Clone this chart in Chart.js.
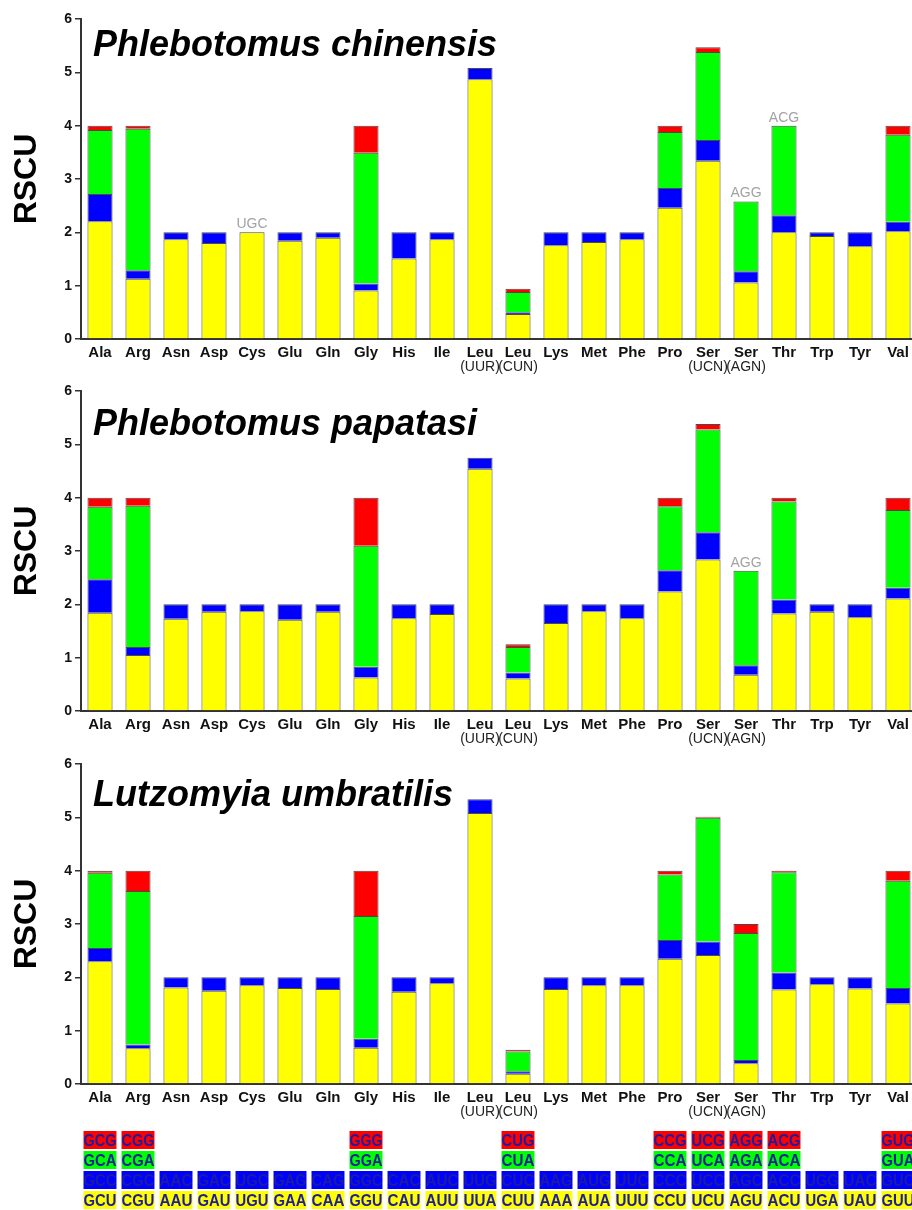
<!DOCTYPE html>
<html>
<head>
<meta charset="utf-8">
<script src="https://cdn.jsdelivr.net/npm/chart.js@4.4.1/dist/chart.umd.min.js"></script>
<style>
  html, body { margin: 0; padding: 0; background: #fff; overflow: hidden; width: 912px; height: 1210px; }
  canvas { position: absolute; left: 0; }
</style>
</head>
<body>
<canvas id="chinensis" width="920" height="390" style="top:0px"></canvas>
<canvas id="papatasi" width="920" height="390" style="top:372px"></canvas>
<canvas id="umbratilis" width="920" height="390" style="top:745px"></canvas>
<canvas id="codons" width="920" height="85" style="top:1125px"></canvas>
<script>
const aminoAcids = ["Ala", "Arg", "Asn", "Asp", "Cys", "Glu", "Gln", "Gly", "His", "Ile", "Leu",
  "Leu", "Lys", "Met", "Phe", "Pro", "Ser", "Ser", "Thr", "Trp", "Tyr", "Val"];
const subLabels = ["", "", "", "", "", "", "", "", "", "", "(UUR)",
  "(CUN)", "", "", "", "", "(UCN)", "(AGN)", "", "", "", ""];

// codon table, bottom row first (yellow, blue, green, red)
const codonsYellow = ["GCU", "CGU", "AAU", "GAU", "UGU", "GAA", "CAA", "GGU", "CAU", "AUU", "UUA",
  "CUU", "AAA", "AUA", "UUU", "CCU", "UCU", "AGU", "ACU", "UGA", "UAU", "GUU"];
const codonsBlue = ["GCC", "CGC", "AAC", "GAC", "UGC", "GAG", "CAG", "GGC", "CAC", "AUC", "UUG",
  "CUC", "AAG", "AUG", "UUC", "CCC", "UCC", "AGC", "ACC", "UGG", "UAC", "GUC"];
const codonsGreen = ["GCA", "CGA", "", "", "", "", "", "GGA", "", "", "",
  "CUA", "", "", "", "CCA", "UCA", "AGA", "ACA", "", "", "GUA"];
const codonsRed = ["GCG", "CGG", "", "", "", "", "", "GGG", "", "", "",
  "CUG", "", "", "", "CCG", "UCG", "AGG", "ACG", "", "", "GUG"];

// RSCU, Phlebotomus chinensis
const chinensisYellow = [2.21, 1.13, 1.87, 1.80, 2.00, 1.84, 1.90, 0.91, 1.51, 1.87, 4.87,
  0.47, 1.76, 1.82, 1.87, 2.46, 3.34, 1.06, 2.00, 1.93, 1.74, 2.02];
const chinensisBlue = [0.51, 0.16, 0.13, 0.20, 0.00, 0.16, 0.10, 0.13, 0.49, 0.13, 0.21,
  0.03, 0.24, 0.18, 0.13, 0.37, 0.39, 0.21, 0.32, 0.07, 0.26, 0.18];
const chinensisGreen = [1.20, 2.65, null, null, null, null, null, 2.45, null, null, null,
  0.38, null, null, null, 1.05, 1.65, 1.31, 1.68, null, null, 1.63];
const chinensisRed = [0.08, 0.06, null, null, null, null, null, 0.51, null, null, null,
  0.06, null, null, null, 0.12, 0.09, 0.00, 0.00, null, null, 0.17];

// RSCU, Phlebotomus papatasi
const papatasiYellow = [1.84, 1.05, 1.73, 1.86, 1.87, 1.71, 1.86, 0.63, 1.74, 1.82, 4.54,
  0.61, 1.65, 1.87, 1.74, 2.24, 2.84, 0.68, 1.83, 1.86, 1.76, 2.11];
const papatasiBlue = [0.63, 0.15, 0.27, 0.14, 0.13, 0.29, 0.14, 0.20, 0.26, 0.18, 0.21,
  0.11, 0.35, 0.13, 0.26, 0.40, 0.51, 0.18, 0.26, 0.14, 0.24, 0.20];
const papatasiGreen = [1.36, 2.65, null, null, null, null, null, 2.27, null, null, null,
  0.48, null, null, null, 1.20, 1.93, 1.77, 1.84, null, null, 1.46];
const papatasiRed = [0.17, 0.15, null, null, null, null, null, 0.90, null, null, null,
  0.05, null, null, null, 0.16, 0.10, 0.00, 0.07, null, null, 0.23];

// RSCU, Lutzomyia umbratilis
const umbratilisYellow = [2.30, 0.67, 1.81, 1.75, 1.85, 1.80, 1.78, 0.68, 1.73, 1.89, 5.08,
  0.19, 1.78, 1.85, 1.85, 2.35, 2.42, 0.39, 1.77, 1.87, 1.79, 1.51];
const umbratilisBlue = [0.25, 0.07, 0.19, 0.25, 0.15, 0.20, 0.22, 0.17, 0.27, 0.11, 0.26,
  0.05, 0.22, 0.15, 0.15, 0.35, 0.25, 0.06, 0.32, 0.13, 0.21, 0.29];
const umbratilisGreen = [1.41, 2.88, null, null, null, null, null, 2.30, null, null, null,
  0.37, null, null, null, 1.23, 2.32, 2.38, 1.88, null, null, 2.01];
const umbratilisRed = [0.04, 0.38, null, null, null, null, null, 0.85, null, null, null,
  0.03, null, null, null, 0.07, 0.02, 0.17, 0.03, null, null, 0.19];

const FONT = "'Liberation Sans', Arial, Helvetica, sans-serif";
const segColors = ["#ffff00", "#0000ff", "#00ff00", "#ff0000"];
const codonRows = [codonsYellow, codonsBlue, codonsGreen, codonsRed];

// species name, (UUR)(CUN) sub labels and grey names of unused codons
const rscuText = {
  id: "rscuText",
  afterDraw(chart, args, opts) {
    const ctx = chart.ctx;
    const area = chart.chartArea;
    const x = chart.scales.x;
    const y = chart.scales.y;
    ctx.save();
    ctx.fillStyle = "#000";
    ctx.font = "italic bold 36px " + FONT;
    ctx.textAlign = "left";
    ctx.textBaseline = "alphabetic";
    ctx.fillText(opts.species, area.left + 12, area.top + opts.titleOffset);

    ctx.font = "14px " + FONT;
    ctx.fillStyle = "#222";
    ctx.textAlign = "center";
    subLabels.forEach((t, i) => {
      if (t) ctx.fillText(t, x.getPixelForValue(i), area.bottom + 32);
    });

    ctx.fillStyle = "#a3a3a3";
    const ds = chart.data.datasets;
    aminoAcids.forEach((aa, i) => {
      let total = 0;
      ds.forEach((d) => { total += d.data[i] || 0; });
      for (let r = 1; r < ds.length; r++) {
        if (ds[r].data[i] === 0) {
          ctx.fillText(codonRows[r][i], x.getPixelForValue(i), y.getPixelForValue(total) - 4);
        }
      }
    });
    ctx.restore();
  },
};

function rscuChart(id, species, titleOffset, series) {
  return new Chart(document.getElementById(id), {
    type: "bar",
    data: {
      labels: aminoAcids,
      datasets: series.map((values, i) => ({
        data: values,
        backgroundColor: segColors[i],
        borderColor: "#4a4a4a",
        borderWidth: 1,
        barPercentage: 0.66,
        categoryPercentage: 1,
      })),
    },
    options: {
      responsive: false,
      animation: false,
      devicePixelRatio: 1,
      layout: { padding: { top: 19, right: 3, bottom: 18, left: 0 } },
      plugins: {
        legend: { display: false },
        tooltip: { enabled: false },
        rscuText: { species, titleOffset },
      },
      scales: {
        x: {
          stacked: true,
          grid: { display: false, drawTicks: false },
          border: { color: "#333", width: 2 },
          ticks: {
            font: { family: FONT, size: 15, weight: "bold" },
            color: "#111",
            padding: 5,
            maxRotation: 0,
            autoSkip: false,
          },
          afterFit: (s) => { s.height = 33; },
        },
        y: {
          stacked: true,
          min: 0,
          max: 6,
          ticks: {
            stepSize: 1,
            font: { family: FONT, size: 14, weight: "bold" },
            color: "#111",
            padding: 3,
          },
          grid: { drawOnChartArea: false, tickLength: 6, color: "#333", lineWidth: 1.5 },
          border: { color: "#333", width: 2 },
          title: {
            display: true,
            text: "RSCU",
            font: { family: FONT, size: 32, weight: "bold" },
            color: "#000",
            padding: { top: 8, bottom: 0 },
          },
          afterFit: (s) => { s.width = 81; },
        },
      },
    },
    plugins: [rscuText],
  });
}

rscuChart("chinensis", "Phlebotomus chinensis", 37,
  [chinensisYellow, chinensisBlue, chinensisGreen, chinensisRed]);
rscuChart("papatasi", "Phlebotomus papatasi", 44,
  [papatasiYellow, papatasiBlue, papatasiGreen, papatasiRed]);
rscuChart("umbratilis", "Lutzomyia umbratilis", 42,
  [umbratilisYellow, umbratilisBlue, umbratilisGreen, umbratilisRed]);

// codon table under the charts
const codonText = {
  id: "codonText",
  afterDatasetsDraw(chart) {
    const ctx = chart.ctx;
    ctx.save();
    ctx.font = "bold 17px " + FONT;
    ctx.fillStyle = "#1c1ca0";
    ctx.textAlign = "center";
    ctx.textBaseline = "middle";
    codonRows.forEach((row, r) => {
      const meta = chart.getDatasetMeta(r);
      row.forEach((c, i) => {
        if (!c) return;
        const el = meta.data[i];
        ctx.fillText(c, el.x, (el.y + el.base) / 2 + 1, el.width - 2);
      });
    });
    ctx.restore();
  },
};

new Chart(document.getElementById("codons"), {
  type: "bar",
  data: {
    labels: aminoAcids,
    datasets: codonRows.map((row, i) => ({
      data: row.map((c) => (c ? 1 : null)),
      backgroundColor: segColors[i],
      borderColor: "rgba(255,255,255,0.75)",
      borderWidth: 1,
      borderSkipped: false,
      barPercentage: 0.92,
      categoryPercentage: 1,
    })),
  },
  options: {
    responsive: false,
    animation: false,
    devicePixelRatio: 1,
    layout: { padding: { top: 5, right: 3, bottom: 0, left: 81 } },
    plugins: { legend: { display: false }, tooltip: { enabled: false } },
    scales: {
      x: { display: false, stacked: true },
      y: { display: false, stacked: true, min: 0, max: 4 },
    },
  },
  plugins: [codonText],
});
</script>
</body>
</html>
